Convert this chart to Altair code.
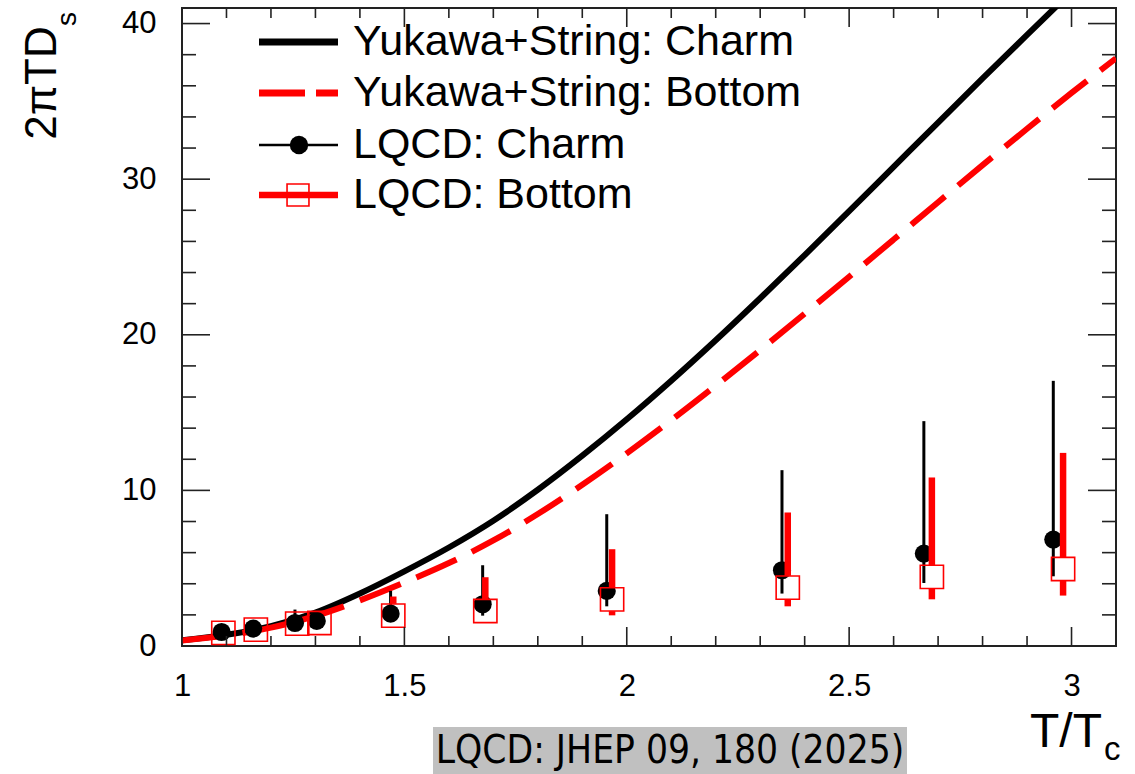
import altair as alt
import pandas as pd

# ---------------- data ----------------
# Yukawa+String curves
T_curve_c = [1.0, 1.1, 1.2, 1.3, 1.4, 1.5, 1.6, 1.7, 1.8, 1.9, 2.0, 2.1, 2.2, 2.3, 2.4, 2.5, 2.6, 2.7, 2.8, 2.9, 3.0]
D_curve_c = [0.37, 0.72, 1.27, 2.15, 3.38, 4.8, 6.33, 8.05, 10.04, 12.23, 14.57, 17.05, 19.65, 22.35, 25.12, 27.94, 30.79, 33.64, 36.47, 39.27, 42.05]
T_curve_b = [1.0, 1.1, 1.2, 1.3, 1.4, 1.5, 1.6, 1.7, 1.8, 1.9, 2.0, 2.1, 2.2, 2.3, 2.4, 2.5, 2.6, 2.7, 2.8, 2.9, 3.0, 3.1]
D_curve_b = [0.35, 0.68, 1.18, 1.93, 2.93, 4.08, 5.33, 6.78, 8.48, 10.36, 12.38, 14.51, 16.73, 19.02, 21.36, 23.73, 26.12, 28.52, 30.9, 33.24, 35.54, 37.77]

# LQCD charm
T_c = [1.089, 1.160, 1.254, 1.303, 1.469, 1.676, 1.955, 2.349, 2.668, 2.959]
D_c = [0.90, 1.12, 1.48, 1.61, 2.08, 2.68, 3.54, 4.87, 5.94, 6.84]
lo_c = [0.75, 0.95, 1.30, 1.40, 1.65, 1.95, 2.55, 3.37, 4.05, 4.48]
hi_c = [1.05, 1.35, 2.34, 1.90, 3.54, 5.19, 8.47, 11.30, 14.45, 17.04]

# LQCD bottom
T_b = [1.093, 1.166, 1.259, 1.309, 1.475, 1.682, 1.967, 2.362, 2.686, 2.981]
D_b = [0.84, 1.05, 1.44, 1.48, 1.95, 2.25, 3.00, 3.75, 4.44, 4.95]
lo_b = [0.75, 0.95, 1.30, 1.35, 1.60, 1.90, 1.97, 2.55, 3.00, 3.24]
hi_b = [0.95, 1.20, 1.65, 1.70, 3.18, 4.42, 6.22, 8.58, 10.83, 12.41]

# axis ticks
x_labels = [1.0, 1.5, 2.0, 2.5, 3.0]
x_minor = [1.1, 1.2, 1.3, 1.4, 1.6, 1.7, 1.8, 1.9, 2.1, 2.2, 2.3, 2.4, 2.6, 2.7, 2.8, 2.9]
y_labels = [0, 10, 20, 30, 40]
y_major = [10, 20, 30, 40]
y_minor = [2, 4, 6, 8, 12, 14, 16, 18, 22, 24, 26, 28, 32, 34, 36, 38]

legend_labels = ["Yukawa+String: Charm", "Yukawa+String: Bottom", "LQCD: Charm", "LQCD: Bottom"]
note_text = "LQCD: JHEP 09, 180 (2025)"

# ---------------- layout ----------------
W, H = 934, 638
FONT = "Liberation Sans"
TICK_COLOR = "#222222"
SQ_SIZE = 540
GAP = 0.76  # half side of the open square marker, in data units (error bar stops at marker edge)

xs = alt.Scale(domain=[1.0, 3.1], nice=False, zero=False)
ys = alt.Scale(domain=[0, 41], nice=False, zero=False)
xaxis = alt.Axis(values=x_labels, format="~g", title=None, grid=False, ticks=False, domain=False,
                 labelFont=FONT, labelFontSize=31, labelColor="black", labelPadding=25,
                 labelFlush=False, labelOverlap=False)
yaxis = alt.Axis(values=y_labels, format="d", title=None, grid=False, ticks=False, domain=False,
                 labelFont=FONT, labelFontSize=31, labelColor="black", labelPadding=26,
                 labelFlush=False, labelOverlap=False)


def X(f):
    return alt.X(f, type="quantitative", scale=xs, axis=xaxis)


def Y(f):
    return alt.Y(f, type="quantitative", scale=ys, axis=yaxis)


one = pd.DataFrame({"d": [0]})


def text(s, x, y, size, font=FONT, **kw):
    return alt.Chart(one).mark_text(text=s, font=font, fontSize=size, color="black", **kw).encode(
        x=alt.value(x), y=alt.value(y))


df_cc = pd.DataFrame({"T": T_curve_c, "D": D_curve_c})
df_cb = pd.DataFrame({"T": T_curve_b, "D": D_curve_b})
df_c = pd.DataFrame({"T": T_c, "D": D_c, "lo": lo_c, "hi": hi_c})
df_b = pd.DataFrame({"T": T_b, "D": D_b, "lo": lo_b, "hi": hi_b})

curve_c = alt.Chart(df_cc).mark_line(color="black", strokeWidth=6, clip=True, interpolate="monotone").encode(
    x=X("T"), y=Y("D"), order="T:Q")
curve_b = alt.Chart(df_cb).mark_line(color="#ff0000", strokeWidth=6, strokeDash=[44, 17], clip=True,
                                     interpolate="monotone").encode(x=X("T"), y=Y("D"), order="T:Q")

err_c = alt.Chart(df_c).mark_rule(color="black", strokeWidth=3).encode(x=X("T"), y=Y("lo"), y2="hi")
pts_c = alt.Chart(df_c).mark_point(shape="circle", filled=True, color="black", size=330, opacity=1).encode(
    x=X("T"), y=Y("D"))

# red error bars, interrupted inside the open square
err_b_up = alt.Chart(df_b).transform_calculate(a=f"datum.D + {GAP}").transform_filter(
    "datum.hi > datum.a").mark_rule(color="#ff0000", strokeWidth=6.5).encode(x=X("T"), y=Y("a"), y2="hi")
err_b_dn = alt.Chart(df_b).transform_calculate(b=f"datum.D - {GAP}").transform_filter(
    "datum.lo < datum.b").mark_rule(color="#ff0000", strokeWidth=6.5).encode(x=X("T"), y=Y("lo"), y2="b")
pts_b = alt.Chart(df_b).mark_point(shape="square", filled=False, stroke="#ff0000",
                                   strokeWidth=1.6, size=SQ_SIZE, opacity=1, strokeOpacity=1).encode(
    x=X("T"), y=Y("D"))

# inward ticks on all four sides
dxM = pd.DataFrame({"t": x_labels})
dxm = pd.DataFrame({"t": x_minor})
dyM = pd.DataFrame({"v": y_major})
dym = pd.DataFrame({"v": y_minor})
tk = dict(color=TICK_COLOR, strokeWidth=1.6)
ticks = [
    alt.Chart(dxM).mark_rule(**tk).encode(x=X("t"), y=alt.value(H), y2=alt.value(H - 19)),
    alt.Chart(dxm).mark_rule(**tk).encode(x=X("t"), y=alt.value(H), y2=alt.value(H - 10)),
    alt.Chart(dxM).mark_rule(**tk).encode(x=X("t"), y=alt.value(0), y2=alt.value(19)),
    alt.Chart(dxm).mark_rule(**tk).encode(x=X("t"), y=alt.value(0), y2=alt.value(10)),
    alt.Chart(dyM).mark_rule(**tk).encode(y=Y("v"), x=alt.value(0), x2=alt.value(28)),
    alt.Chart(dym).mark_rule(**tk).encode(y=Y("v"), x=alt.value(0), x2=alt.value(14)),
    alt.Chart(dyM).mark_rule(**tk).encode(y=Y("v"), x=alt.value(W), x2=alt.value(W - 28)),
    alt.Chart(dym).mark_rule(**tk).encode(y=Y("v"), x=alt.value(W), x2=alt.value(W - 14)),
]

# legend
rows = [34, 85, 137, 187]
lx0, lx1, ltx = 77, 156, 171
legend = [
    alt.Chart(one).mark_rule(color="black", strokeWidth=7).encode(
        x=alt.value(lx0), x2=alt.value(lx1), y=alt.value(rows[0])),
    alt.Chart(one).mark_rule(color="#ff0000", strokeWidth=7, strokeDash=[46, 11]).encode(
        x=alt.value(lx0), x2=alt.value(lx1), y=alt.value(rows[1])),
    alt.Chart(one).mark_rule(color="black", strokeWidth=2.5).encode(
        x=alt.value(lx0), x2=alt.value(lx1), y=alt.value(rows[2])),
    alt.Chart(one).mark_point(shape="circle", filled=True, color="black", size=340, opacity=1).encode(
        x=alt.value(117), y=alt.value(rows[2])),
    alt.Chart(one).mark_rule(color="#ff0000", strokeWidth=6.5).encode(
        x=alt.value(lx0), x2=alt.value(lx1), y=alt.value(rows[3])),
    alt.Chart(one).mark_point(shape="square", filled=False, stroke="#ff0000", strokeWidth=1.6,
                              size=480, opacity=1).encode(
        x=alt.value(116), y=alt.value(rows[3])),
]
for lab, ry in zip(legend_labels, rows):
    legend.append(text(lab, ltx, ry, 43, align="left", baseline="middle"))

# axis titles
titles = [
    text("2\u03c0TD", -139, 75, 44, angle=270, align="center", baseline="middle"),
    text("s", -114, 11, 28, angle=270, align="center", baseline="middle"),
    text("T/T", 920, 739, 48, align="right", baseline="alphabetic"),
    text("c", 922, 752, 33, align="left", baseline="alphabetic"),
]

# source note
note = [
    alt.Chart(one).mark_rect(color="#c0c0c0").encode(
        x=alt.value(251), x2=alt.value(725), y=alt.value(719), y2=alt.value(766)),
    text(note_text, 488, 743, 38.5, font="Liberation Sans Narrow, DejaVu Sans Condensed, Liberation Sans",
         align="center", baseline="middle"),
]

chart = alt.layer(
    curve_c, curve_b, err_c, pts_c, err_b_up, err_b_dn, pts_b, *ticks, *legend, *titles, *note
).properties(
    width=W, height=H,
    autosize=alt.AutoSizeParams(type="none"),
    padding={"left": 182, "top": 8, "right": 19, "bottom": 128},
    background="white",
).configure_view(stroke="#222222", strokeWidth=2)

chart.save("out.html", embed_options={"renderer": "svg", "actions": False})
